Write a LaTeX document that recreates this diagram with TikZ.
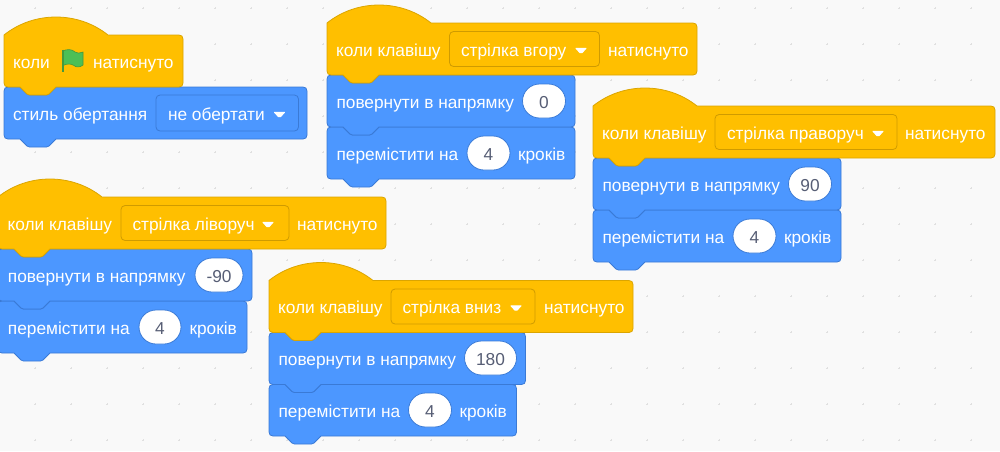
\documentclass[tikz,border=0pt]{standalone}
\usepackage{fontspec}
\setmainfont{Liberation Sans}
\definecolor{hatfill}{HTML}{FFBF00}
\definecolor{hatline}{HTML}{DBA500}
\definecolor{hatdark}{HTML}{CF9B00}
\definecolor{motfill}{HTML}{4C97FF}
\definecolor{motline}{HTML}{3A7AD6}
\definecolor{pilltext}{HTML}{575E75}
\definecolor{bgc}{HTML}{F9F9F9}
\definecolor{gridc}{HTML}{E0E0E0}
\definecolor{flagfill}{HTML}{4CBF56}
\definecolor{flagline}{HTML}{45993D}
\tikzset{
  hatblock/.style={fill=hatfill,draw=hatline,line width=0.8pt,line join=round},
  motblock/.style={fill=motfill,draw=motline,line width=0.8pt,line join=round},
  lab/.style={anchor=base west,inner sep=0pt,outer sep=0pt,text=white,font=\fontsize{17.3}{17.3}\selectfont},
  pilllab/.style={anchor=base,inner sep=0pt,outer sep=0pt,text=pilltext,font=\fontsize{17.3}{17.3}\selectfont},
  pillbox/.style={fill=white,draw=motline,line width=0.8pt,rounded corners=17pt},
  hatdrop/.style={fill=hatfill,draw=hatdark,line width=0.8pt,rounded corners=4pt},
  motdrop/.style={fill=motfill,draw=motline,line width=0.8pt,rounded corners=4pt},
  caret/.style={fill=white,draw=white,line width=1pt,line join=round}
}
% bottom edge with notch, right to left; #1 left x, #2 bottom y
\newcommand{\notchpath}[2]{
  -- ({#1+52},{#2}) -- ({#1+45},{#2+7}) .. controls ({#1+44},{#2+8}) and ({#1+43.5},{#2+8}) .. ({#1+42.5},{#2+8})
  -- ({#1+25.5},{#2+8}) .. controls ({#1+24.5},{#2+8}) and ({#1+24},{#2+8}) .. ({#1+23},{#2+7}) -- ({#1+16},{#2})
  -- ({#1+4},{#2}) .. controls ({#1+1.5},{#2}) and ({#1},{#2-1.5}) .. ({#1},{#2-4})
}
% x0 x1 recttop bottom
\newcommand{\hatshape}[4]{
  \draw[hatblock] ({#1},{#3}) .. controls ({#1+30},{#3-24}) and ({#1+74},{#3-24}) .. ({#1+104},{#3})
    -- ({#2-4},{#3}) .. controls ({#2-1.5},{#3}) and ({#2},{#3+1.5}) .. ({#2},{#3+4})
    -- ({#2},{#4-4}) .. controls ({#2},{#4-1.5}) and ({#2-1.5},{#4}) .. ({#2-4},{#4})
    \notchpath{#1}{#4} -- cycle;
}
\newcommand{\motshape}[4]{
  \draw[motblock] ({#1},{#3+4}) .. controls ({#1},{#3+1.5}) and ({#1+1.5},{#3}) .. ({#1+4},{#3})
    -- ({#1+16},{#3}) -- ({#1+23},{#3+7}) .. controls ({#1+24},{#3+8}) and ({#1+24.5},{#3+8}) .. ({#1+25.5},{#3+8})
    -- ({#1+42.5},{#3+8}) .. controls ({#1+43.5},{#3+8}) and ({#1+44},{#3+8}) .. ({#1+45},{#3+7}) -- ({#1+52},{#3})
    -- ({#2-4},{#3}) .. controls ({#2-1.5},{#3}) and ({#2},{#3+1.5}) .. ({#2},{#3+4})
    -- ({#2},{#4-4}) .. controls ({#2},{#4-1.5}) and ({#2-1.5},{#4}) .. ({#2-4},{#4})
    \notchpath{#1}{#4} -- cycle;
}
\newcommand{\caretat}[2]{
  \draw[caret] ({#1-5},{#2-2.2}) -- ({#1+5},{#2-2.2}) -- ({#1+1},{#2+2.2}) -- ({#1-1},{#2+2.2}) -- cycle;
}
\begin{document}
\begin{tikzpicture}[x=1pt,y=-1pt]
\useasboundingbox (0,0) rectangle (1000,451);
\fill[bgc] (0,0) rectangle (1000,451);
\begin{scope}
\clip (0,0) rectangle (1000,451);
\foreach \i in {0,...,28}{\foreach \j in {0,...,12}{
  \pgfmathsetmacro{\gx}{\i*36-0.7}
  \pgfmathsetmacro{\gy}{\j*36+8}
  \draw[gridc,line width=0.5pt] ({\gx-1},\gy) -- ({\gx+1},\gy) (\gx,{\gy-1}) -- (\gx,{\gy+1});
}}

% --- flag group
\motshape{4}{307}{87}{139}
\hatshape{4}{183}{35}{87}
\node[lab] (a1) at (13,68) {коли};
\fill[flagfill,draw=flagline,line width=0.6pt] (62.5,51) .. controls (67,49) and (72,49) .. (75,52)
  .. controls (77,53.5) and (80,53.5) .. (83,52) -- (83,65) .. controls (80,67.5) and (76,67.5) .. (74,65.5)
  .. controls (71,63.5) and (67,63.5) .. (63,65.5) -- cycle;
\draw[flagline,line width=2pt] (62.7,49.5) -- (62.7,71.7);
\node[lab] (a2) at (93,68) {натиснуто};
\node[lab] (a3) at (13,120) {стиль обертання};
\draw[motdrop] (156,95) rectangle (298.5,131);
\node[lab] (a4) at (168,120) {не обертати};
\caretat{279.5}{114.5}

% --- up group
\motshape{327}{575}{127}{179}
\motshape{327}{575}{75}{127}
\hatshape{327}{697}{23}{75}
\node[lab] (b1) at (336,56) {коли клавішу};
\draw[hatdrop] (449.5,31.5) rectangle (599.5,66.5);
\node[lab] (b2) at (461,56) {стрілка вгору};
\caretat{581}{50.5}
\node[lab] (b3) at (608,56) {натиснуто};
\node[lab] (b4) at (336.5,108) {повернути в напрямку};
\draw[pillbox] (522.5,84) rectangle (565.5,118);
\node[pilllab] (b5) at (544,108) {0};
\node[lab] (b6) at (336.5,160) {перемістити на};
\draw[pillbox] (467,136) rectangle (510,170);
\node[pilllab] (b7) at (488.5,160) {4};
\node[lab] (b8) at (518,160) {кроків};

% --- right group
\motshape{593}{841}{210}{262}
\motshape{593}{841}{158}{210}
\hatshape{593}{995}{106}{158}
\node[lab] (c1) at (602,139) {коли клавішу};
\draw[hatdrop] (715,114.5) rectangle (897,149.5);
\node[lab] (c2) at (727,139) {стрілка праворуч};
\caretat{878}{133.5}
\node[lab] (c3) at (905,139) {натиснуто};
\node[lab] (c4) at (602.5,191) {повернути в напрямку};
\draw[pillbox] (788.5,167) rectangle (831.5,201);
\node[pilllab] (c5) at (810,191) {90};
\node[lab] (c6) at (602.5,243) {перемістити на};
\draw[pillbox] (733,219) rectangle (776,253);
\node[pilllab] (c7) at (754.5,243) {4};
\node[lab] (c8) at (784,243) {кроків};

% --- left group
\motshape{-2}{247}{301}{353}
\motshape{-2}{252}{249}{301}
\hatshape{-2}{386}{197}{249}
\node[lab] (d1) at (7.5,230) {коли клавішу};
\draw[hatdrop] (121,205.5) rectangle (289,240.5);
\node[lab] (d2) at (132.5,230) {стрілка ліворуч};
\caretat{268}{224.5}
\node[lab] (d3) at (297,230) {натиснуто};
\node[lab] (d4) at (8,282) {повернути в напрямку};
\draw[pillbox] (195,258) rectangle (243,292);
\node[pilllab] (d5) at (219,282) {-90};
\node[lab] (d6) at (8,334) {перемістити на};
\draw[pillbox] (139,310) rectangle (181,344);
\node[pilllab] (d7) at (160,334) {4};
\node[lab] (d8) at (189.5,334) {кроків};

% --- down group
\motshape{269}{516.5}{384.5}{436}
\motshape{269}{525.5}{332.5}{384.5}
\hatshape{269}{633}{280.5}{332.5}
\node[lab] (e1) at (278,313.5) {коли клавішу};
\draw[hatdrop] (391,289) rectangle (535,324);
\node[lab] (e2) at (402.5,313.5) {стрілка вниз};
\caretat{516}{308}
\node[lab] (e3) at (544,313.5) {натиснуто};
\node[lab] (e4) at (278.5,365) {повернути в напрямку};
\draw[pillbox] (464.5,341) rectangle (516.5,375);
\node[pilllab] (e5) at (490.5,365) {180};
\node[lab] (e6) at (278.5,417) {перемістити на};
\draw[pillbox] (408.5,393) rectangle (451.5,427);
\node[pilllab] (e7) at (430,417) {4};
\node[lab] (e8) at (459.5,417) {кроків};
\end{scope}
\end{tikzpicture}
\end{document}
